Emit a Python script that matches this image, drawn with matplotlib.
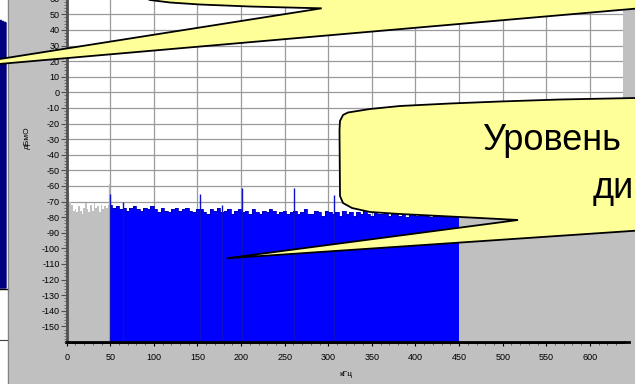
import numpy as np
import matplotlib.pyplot as plt
from matplotlib.patches import Polygon, Rectangle

plt.rcParams['axes.unicode_minus'] = False

# spectrum below the band (kHz, dB)
low_khz = [0, 2, 4, 6, 8, 10, 12, 14, 16, 18, 20, 22, 24, 26, 28, 30, 32, 34, 36, 38, 40, 42, 44, 46, 48, 50]
low_db = [-66, -68, -70, -72, -76, -75, -77, -73, -76, -78, -74, -71, -75, -77, -72, -76, -71, -74, -73, -77,
          -72, -75, -73, -74, -72, -73]

# the 50..450 kHz band, one value every 4 kHz
band_khz = np.arange(50, 451, 4)
band_db = [-72, -74, -73, -75, -74, -76, -74, -73, -75, -76, -74, -75, -73,
           -75, -77, -74, -76, -77, -75, -74, -76, -75, -74, -76, -77, -75,
           -75, -77, -78, -75, -76, -74, -77, -76, -75, -78, -76, -75, -77,
           -76, -78, -75, -77, -78, -76, -77, -75, -76, -78, -77, -76, -78,
           -77, -76, -78, -77, -75, -78, -78, -76, -77, -79, -76, -77, -78,
           -77, -79, -76, -78, -77, -79, -77, -78, -76, -78, -79, -77, -78,
           -78, -77, -79, -78, -77, -79, -78, -80, -78, -77, -79, -78, -79,
           -78, -80, -79, -78, -79, -80, -78, -79, -80, -79]

# above the band
high_khz = [450, 460, 470, 480, 490, 500, 510, 520, 530, 540, 550, 560, 570, 580, 590, 600, 610, 620, 630, 640]
high_db = [-78, -79, -80, -78, -79, -81, -79, -80, -78, -80, -81, -79, -80, -81, -79, -80, -82, -80, -81, -80]

# narrow lines
spike_khz = [50, 65, 153, 178, 201, 261, 306]
spike_db = [-65, -70, -65, -72, -61, -61, -66]
gray_spike_khz = [1, 49]
gray_spike_db = [-64, -59]

x_ticks = list(range(0, 601, 50))
y_ticks = list(range(-150, 61, 10))

# callout outlines in picture pixels (x right, y down)
callout_top = [(-70, 70), (321.7, 8.3), (300, 7.8), (250, 6.5), (200, 4.5), (170, 2.5), (150, 0),
               (132, -8), (122, -25), (120, -80), (720, -80), (720, 1.3)]
callout_right = [(226.7, 258.3), (518, 220), (480, 218), (400, 214), (370, 212), (352, 208), (343, 203),
                 (340, 196), (339.5, 130), (340, 121), (343, 115), (348, 112.5), (370, 109), (400, 106),
                 (450, 103.5), (500, 101.5), (560, 99.5), (635, 98), (720, 97), (720, 225)]

W, H = 635, 384
fig = plt.figure(figsize=(6.35, 3.84), dpi=100, facecolor='#c0c0c0')

# neighbouring window on the left edge
bg = fig.add_axes([0, 0, 1, 1], zorder=0)
bg.set_xlim(0, W)
bg.set_ylim(H, 0)
bg.axis('off')
bg.add_patch(Rectangle((0, 0), 7.5, H, color='white'))
bg.add_patch(Polygon([(0, 22), (1, 20), (2, 23), (3, 21), (4, 24), (5, 22), (6, 23), (6, 288), (0, 288)],
                     color='#000080'))
bg.plot([0, 7.5], [289, 289], color='black', lw=1)
bg.plot([0, 7.5], [340, 340], color='#404040', lw=0.8)
bg.plot([7.5, 7.5], [0, H], color='#808080', lw=1)
bg.plot([66, 629], [342, 342], color='black', lw=2)

tick_font = ['Liberation Sans', 'DejaVu Sans']

ax = fig.add_axes([66.7 / W, (H - 342) / H, 556.3 / W, 374.5 / H], zorder=1)
ax.set_facecolor('white')
ax.set_xlim(0, 638)
ax.set_ylim(-160, 80)
ax.set_axisbelow(True)

ax.fill_between(low_khz, low_db, -160, step='mid', color='#c0c0c0', lw=0)
ax.fill_between(high_khz, high_db, -160, step='mid', color='#c0c0c0', lw=0)
ax.vlines(gray_spike_khz, -160, gray_spike_db, color='#b8b8b8', lw=1)
ax.fill_between(band_khz, band_db, -160, step='mid', color='#0000ff', lw=0)
ax.plot(band_khz, band_db, drawstyle='steps-mid', color='#0000b0', lw=0.6)
ax.vlines(spike_khz, -160, spike_db, color='#1010c8', lw=1)

ax.set_xticks(x_ticks)
ax.set_xticks(range(0, 631, 10), minor=True)
ax.set_yticks(y_ticks)
ax.set_yticks(range(-160, 81, 2), minor=True)
ax.grid(True, which='major', color='#9a9a9a', lw=0.9)
for s in ['top', 'right']:
    ax.spines[s].set_visible(False)
ax.spines['left'].set_color('#505050')
ax.spines['left'].set_linewidth(2)
ax.spines['bottom'].set_color('black')
ax.spines['bottom'].set_linewidth(2)
ax.tick_params(axis='y', which='major', length=4, width=0.8, pad=1, color='#505050')
ax.tick_params(axis='y', which='minor', length=2, width=0.6, color='#606060')
ax.tick_params(axis='x', which='major', length=3, width=0.8, pad=5)
ax.tick_params(axis='x', which='minor', length=2, width=0.6, color='#505050')
for lab in ax.get_xticklabels() + ax.get_yticklabels():
    lab.set_family(tick_font)
    lab.set_fontsize(6.5)

fig.text(27 / W, 1 - 138 / H, 'дБмО', rotation=90, ha='center', va='center', fontsize=6, family=tick_font)
fig.text(346 / W, 1 - 375 / H, 'кГц', ha='center', va='center', fontsize=6, family=tick_font)

# callouts drawn over everything
ov = fig.add_axes([0, 0, 1, 1], zorder=5)
ov.set_xlim(0, W)
ov.set_ylim(H, 0)
ov.axis('off')
ov.patch.set_alpha(0)
ov.add_patch(Polygon(callout_top, closed=True, facecolor='#ffff99', edgecolor='black', lw=1.3))
ov.add_patch(Polygon(callout_right, closed=True, facecolor='#ffff99', edgecolor='black', lw=1.3))
ov.text(481.7, 150, 'Уровень', fontsize=26, family='Liberation Sans', va='baseline', ha='left')
ov.text(592.7, 198.3, 'ди', fontsize=26, family='Liberation Sans', va='baseline', ha='left')

fig.savefig('out.png', dpi=100, facecolor=fig.get_facecolor())
